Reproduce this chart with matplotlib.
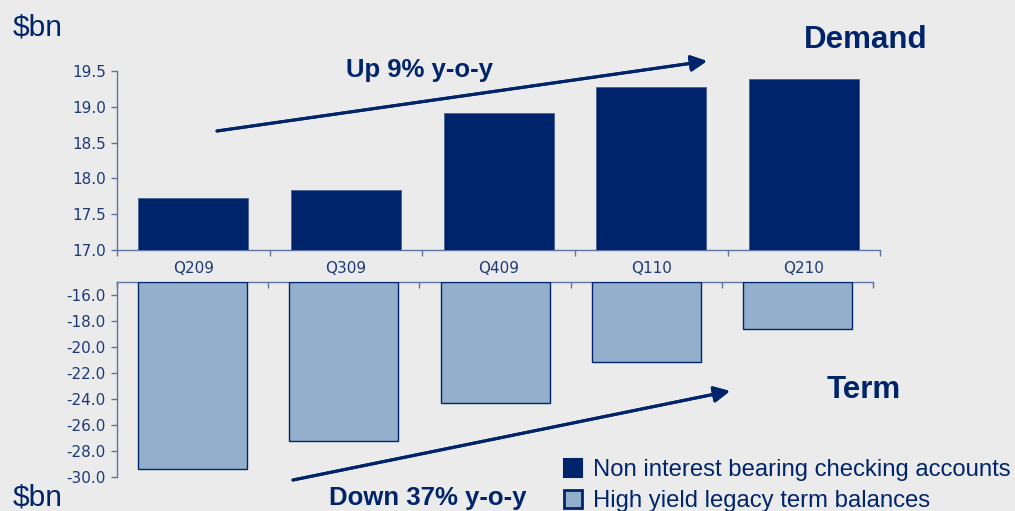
import matplotlib.pyplot as plt
from matplotlib.patches import Patch
from matplotlib.ticker import FixedLocator
import numpy as np

quarters = ["Q209", "Q309", "Q409", "Q110", "Q210"]
demand = [17.73, 17.84, 18.92, 19.28, 19.39]     # non interest bearing checking, $bn
term = [-29.4, -27.2, -24.33, -21.15, -18.6]     # high yield legacy term, $bn

navy = "#00246b"
light = "#93afcb"
spine = "#5f74a3"
bg = "#ebebeb"
tickfont = "DejaVu Sans"
plt.rcParams["font.family"] = ["Liberation Sans", "DejaVu Sans"]

fig = plt.figure(figsize=(10.15, 5.11), dpi=100, facecolor=bg)
x = np.arange(len(quarters))

##########
# top panel: demand deposits
ax1 = fig.add_axes([0.1153, 0.5108, 0.752, 0.3502])
ax1.set_facecolor(bg)
ax1.bar(x, demand, width=0.72, color=navy, edgecolor="#4a5f8f", linewidth=0.6, zorder=3)
ax1.set_xlim(-0.5, 4.5)
ax1.set_ylim(17.0, 19.5)
ax1.set_yticks(np.arange(17.0, 19.51, 0.5))
ax1.set_yticklabels(["%.1f" % v for v in np.arange(17.0, 19.51, 0.5)])
ax1.set_xticks(x)
ax1.set_xticklabels(quarters)
ax1.xaxis.set_minor_locator(FixedLocator(np.arange(-0.5, 4.6, 1)))
ax1.tick_params(axis="x", which="major", length=0, pad=8)
ax1.tick_params(axis="x", which="minor", length=4, width=1, color=spine, direction="out")
ax1.tick_params(axis="y", length=4, width=1, color=spine, pad=4)
for s in ["top", "right"]:
    ax1.spines[s].set_visible(False)
for s in ["left", "bottom"]:
    ax1.spines[s].set_color(spine)
    ax1.spines[s].set_linewidth(1)

##########
# bottom panel: term balances, hanging from the top
ax2 = fig.add_axes([0.1153, 0.0665, 0.745, 0.3816])
ax2.set_facecolor(bg)
ax2.bar(x, np.array(term) + 15, bottom=-15, width=0.72, color=light,
        edgecolor=navy, linewidth=1.0, zorder=3)
ax2.set_xlim(-0.5, 4.5)
ax2.set_ylim(-30, -15)
ax2.set_yticks(np.arange(-30, -15, 2))
ax2.set_yticklabels(["%.1f" % v for v in np.arange(-30, -15, 2)])
ax2.set_xticks([])
ax2.xaxis.set_minor_locator(FixedLocator(np.arange(-0.5, 4.6, 1)))
ax2.xaxis.set_ticks_position("top")
ax2.tick_params(axis="x", which="minor", length=4, width=1, color=spine,
                direction="in", top=True, bottom=False)
ax2.tick_params(axis="y", length=4, width=1, color=spine, pad=4)
for s in ["bottom", "right"]:
    ax2.spines[s].set_visible(False)
for s in ["left", "top"]:
    ax2.spines[s].set_color(spine)
    ax2.spines[s].set_linewidth(1)

for ax in (ax1, ax2):
    for lab in ax.get_xticklabels() + ax.get_yticklabels():
        lab.set_fontfamily(tickfont)
        lab.set_fontsize(11)
        lab.set_color("#1c3a78")

##########
# labels and arrows
W, H = 1015.0, 511.0
fig.text(13 / W, 1 - 35 / H, "$bn", fontsize=21.5, color=navy, va="baseline")
fig.text(13 / W, 1 - 505 / H, "$bn", fontsize=21.5, color=navy, va="baseline")
fig.text(866 / W, 1 - 48 / H, "Demand", fontsize=22.5, weight="bold", color=navy,
         ha="center", va="baseline")
fig.text(864 / W, 1 - 398 / H, "Term", fontsize=22.5, weight="bold", color=navy,
         ha="center", va="baseline")
fig.text(420 / W, 1 - 77 / H, "Up 9% y-o-y", fontsize=18.5, weight="bold", color=navy,
         ha="center", va="baseline")
fig.text(428 / W, 1 - 505 / H, "Down 37% y-o-y", fontsize=18.5, weight="bold", color=navy,
         ha="center", va="baseline")

arrow = dict(arrowstyle="-|>", color=navy, lw=2.2, mutation_scale=24, shrinkA=0, shrinkB=0)
fig.add_artist(plt.annotate("", xy=(707 / W, 1 - 61 / H), xytext=(217 / W, 1 - 131 / H),
                            xycoords="figure fraction", arrowprops=arrow))
fig.add_artist(plt.annotate("", xy=(730 / W, 1 - 391 / H), xytext=(293 / W, 1 - 480 / H),
                            xycoords="figure fraction", arrowprops=arrow))

handles = [Patch(facecolor=navy, edgecolor=navy, linewidth=1.5),
           Patch(facecolor=light, edgecolor=navy, linewidth=2)]
leg = fig.legend(handles, ["Non interest bearing checking accounts",
                           "High yield legacy term balances"],
                 loc="lower left", bbox_to_anchor=(547 / W, 1 - 529 / H), frameon=False,
                 fontsize=17.2, handlelength=0.76, handleheight=0.76, handletextpad=0.45,
                 labelspacing=0.38, borderpad=0.2)
for t in leg.get_texts():
    t.set_color(navy)

fig.savefig("out.png", dpi=100, facecolor=bg)
